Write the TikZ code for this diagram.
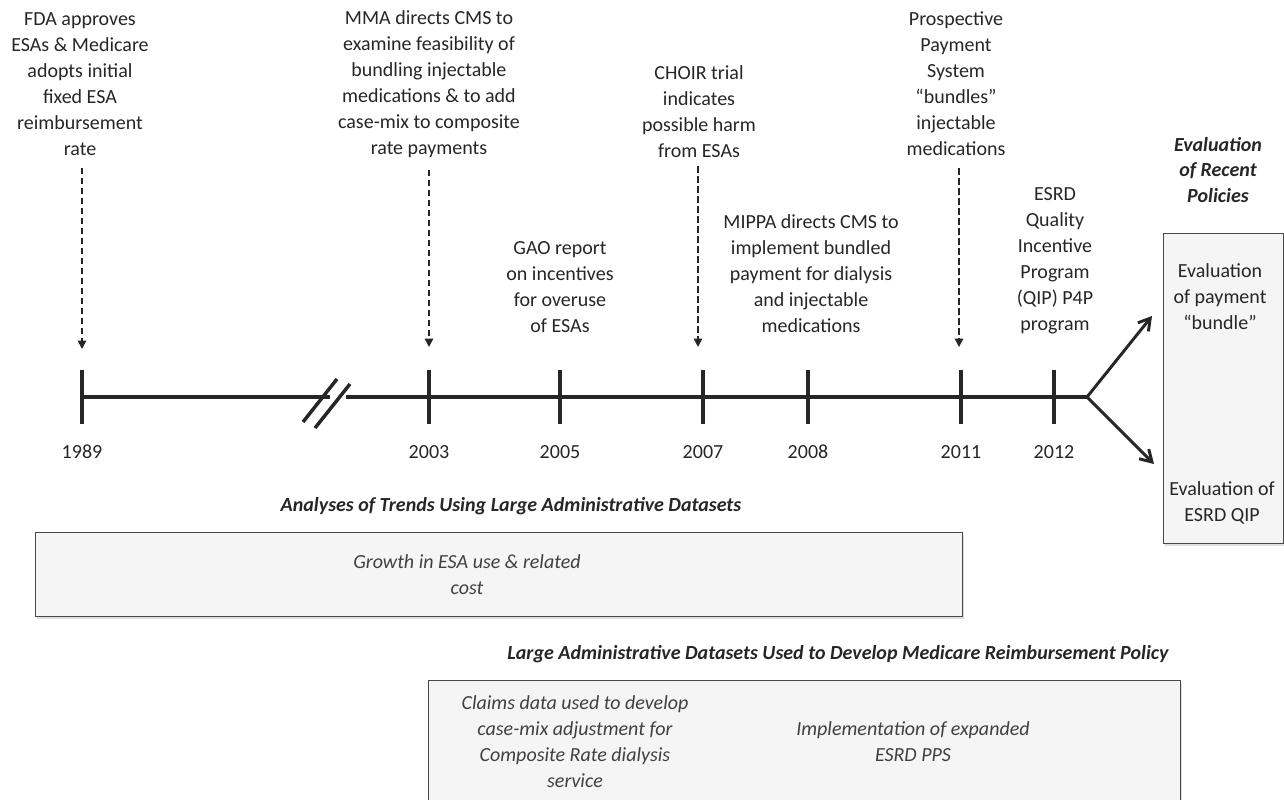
\documentclass[tikz,border=0pt]{standalone}
\usepackage{fontspec}
\setmainfont{Carlito}
\usetikzlibrary{positioning,arrows.meta,shadows}

\definecolor{ink}{HTML}{262626}
\definecolor{boxtext}{HTML}{404040}
\definecolor{boxfill}{HTML}{F5F5F5}

\begin{document}
\begin{tikzpicture}[
  x=0.75pt, y=-0.75pt,
  every node/.style={font=\fontsize{15}{19.5}\selectfont, text=ink},
  event/.style={align=center, inner sep=2pt},
  year/.style={inner sep=1pt, text height=1.6ex, text depth=0.2ex},
  heading/.style={font=\fontsize{15}{19}\selectfont\bfseries\itshape, align=center},
  panel/.style={draw=ink!85, fill=boxfill, line width=1pt,
                drop shadow={opacity=0.25, shadow xshift=1pt, shadow yshift=-1.5pt}},
  paneltext/.style={font=\fontsize{15}{19.5}\selectfont\itshape, text=boxtext, align=center},
  axis/.style={line width=3pt, draw=ink},
  tickmark/.style={line width=3pt, draw=ink},
  dasharrow/.style={dashed, line width=1.2pt, draw=ink, dash pattern=on 5pt off 2.5pt,
                    -{Triangle[length=2.2mm, width=2.2mm]}},
  branch/.style={line width=2.2pt, draw=ink, -{Straight Barb[length=3mm, width=3.6mm]}},
]
\useasboundingbox (0,0) rectangle (1284,799);

% ---- timeline --------------------------------------------------------
\foreach \yr/\x in {1989/82, 2003/429, 2005/560, 2007/703, 2008/808, 2011/961, 2012/1054} {
  \coordinate (t\yr) at (\x,397);
  \node[year] (y\yr) at (\x,454) {\yr};
}
\coordinate (brkL) at (330,397);
\coordinate (brkR) at (346,397);
\coordinate (fork) at (1087,397);

\draw[axis] (t1989) -- (brkL);
\draw[axis] (brkR) -- (fork);
\foreach \t in {t1989,t2003,t2005,t2007,t2008,t2011,t2012}
  \draw[tickmark] (\t) ++(0,-27) -- ++(0,54);

% break mark
\draw[line width=2.6pt, draw=ink] (303,422) -- (337,379);
\draw[line width=2.6pt, draw=ink] (315,428) -- (350,384);

% ---- events above the line ------------------------------------------
\node[event] (fda)   at (80,84)    {FDA approves\\ESAs \& Medicare\\adopts initial\\fixed ESA\\reimbursement\\rate};
\node[event] (mma)   at (429,84)   {MMA directs CMS to\\examine feasibility of\\bundling injectable\\medications \& to add\\case-mix to composite\\rate payments};
\node[event] (choir) at (699,112)  {CHOIR trial\\indicates\\possible harm\\from ESAs};
\node[event] (gao)   at (560,287)  {GAO report\\on incentives\\for overuse\\of ESAs};
\node[event] (mippa) at (811,274)  {MIPPA directs CMS to\\implement bundled\\payment for dialysis\\and injectable\\medications};
\node[event] (pps)   at (956,84)   {Prospective\\Payment\\System\\“bundles”\\injectable\\medications};
\node[event] (qip)   at (1055,261) {ESRD\\Quality\\Incentive\\Program\\(QIP) P4P\\program};

\coordinate (a1989) at (82,349);
\coordinate (a2003) at (429,347);
\coordinate (a2007) at (698,347);
\coordinate (a2011) at (959,347);

\draw[dasharrow, shorten <=7pt] (fda.south -| a1989)   -- (a1989);
\draw[dasharrow, shorten <=7pt] (mma.south -| a2003)   -- (a2003);
\draw[dasharrow, shorten <=4pt] (choir.south -| a2007) -- (a2007);
\draw[dasharrow, shorten <=7pt] (pps.south -| a2011)   -- (a2011);

% ---- recent policies -------------------------------------------------
\node[heading] (recent) at (1218,170) {Evaluation\\of Recent\\Policies};
\node[panel, minimum width=120*0.75pt, minimum height=310*0.75pt, anchor=north west]
     (evalbox) at (1163,233) {};
\node[event] (bundle) at (1220,297) {Evaluation\\of payment\\“bundle”};
\node[event] (evalqip) at (1222,503) {Evaluation of\\ESRD QIP};

\coordinate (toBundle) at (1152,316);
\coordinate (toQip) at (1154,464);
\draw[branch] (fork) -- (toBundle);
\draw[branch] (fork) -- (toQip);

% ---- analyses panel --------------------------------------------------
\node[heading] (trends) at (511,506) {Analyses of Trends Using Large Administrative Datasets};
\node[panel, minimum width=927*0.75pt, minimum height=84*0.75pt, anchor=north west]
     (trendbox) at (35,532) {};
\node[paneltext] (growth) at (467,575) {Growth in ESA use \& related\\cost};

% ---- reimbursement panel --------------------------------------------
\node[heading] (policy) at (838,654) {Large Administrative Datasets Used to Develop Medicare Reimbursement Policy};
\node[panel, minimum width=752*0.75pt, minimum height=140*0.75pt, anchor=north west]
     (policybox) at (428,680) {};
\node[paneltext] (claims) at (575,742) {Claims data used to develop\\case-mix adjustment for\\Composite Rate dialysis\\service};
\node[paneltext] (expand) at (913,742) {Implementation of expanded\\ESRD PPS};

\end{tikzpicture}
\end{document}
